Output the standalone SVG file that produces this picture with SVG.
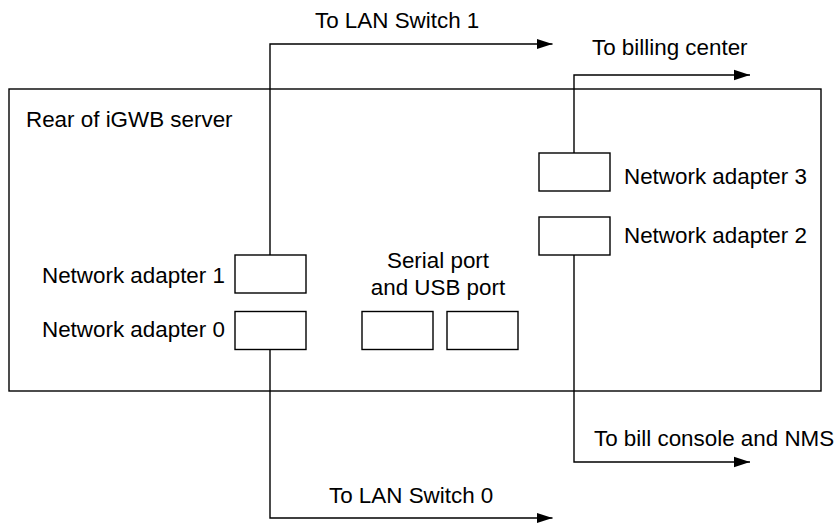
<svg xmlns="http://www.w3.org/2000/svg" width="839" height="527" viewBox="0 0 839 527">
<style>
.ln{fill:none;stroke:#000;stroke-width:1.4}
.bx{fill:#fff;stroke:#000;stroke-width:1.4}
text{font-family:"Liberation Sans",Arial,sans-serif;font-size:22.4px;fill:#000}
</style>
<defs>
<marker id="ah" markerUnits="userSpaceOnUse" markerWidth="17" markerHeight="12" refX="16" refY="6" orient="auto">
<path d="M0,0.8 L16,6 L0,11.2 Z" fill="#000"/>
</marker>
</defs>
<rect width="839" height="527" fill="#fff"/>
<g id="server">
<rect x="9" y="89" width="812" height="302" fill="none" stroke="#000" stroke-width="1.4"/>
<text x="26" y="127">Rear of iGWB server</text>
</g>
<g id="connectors">
<path class="ln" d="M270,255 V44 H552.5" marker-end="url(#ah)"/>
<path class="ln" d="M574,153 V75 H750" marker-end="url(#ah)"/>
<path class="ln" d="M270,349 V518 H552.5" marker-end="url(#ah)"/>
<path class="ln" d="M574,255 V462 H750" marker-end="url(#ah)"/>
</g>
<g id="adapter1">
<rect class="bx" x="235" y="255" width="71" height="38"/>
<text x="42" y="283">Network adapter 1</text>
</g>
<g id="adapter0">
<rect class="bx" x="235" y="311.5" width="71" height="38"/>
<text x="42" y="337">Network adapter 0</text>
</g>
<g id="adapter3">
<rect class="bx" x="539" y="153" width="71" height="38"/>
<text x="624" y="184">Network adapter 3</text>
</g>
<g id="adapter2">
<rect class="bx" x="539" y="217" width="71" height="38"/>
<text x="624" y="243">Network adapter 2</text>
</g>
<g id="ports">
<rect class="bx" x="362" y="311.5" width="71" height="38"/>
<rect class="bx" x="447" y="311.5" width="71" height="38"/>
<text x="438" y="268" text-anchor="middle">Serial port</text>
<text x="438" y="295" text-anchor="middle">and USB port</text>
</g>
<g id="labels">
<text x="315" y="28">To LAN Switch 1</text>
<text x="592" y="55">To billing center</text>
<text x="594" y="446">To bill console and NMS</text>
<text x="329" y="503">To LAN Switch 0</text>
</g>
</svg>
